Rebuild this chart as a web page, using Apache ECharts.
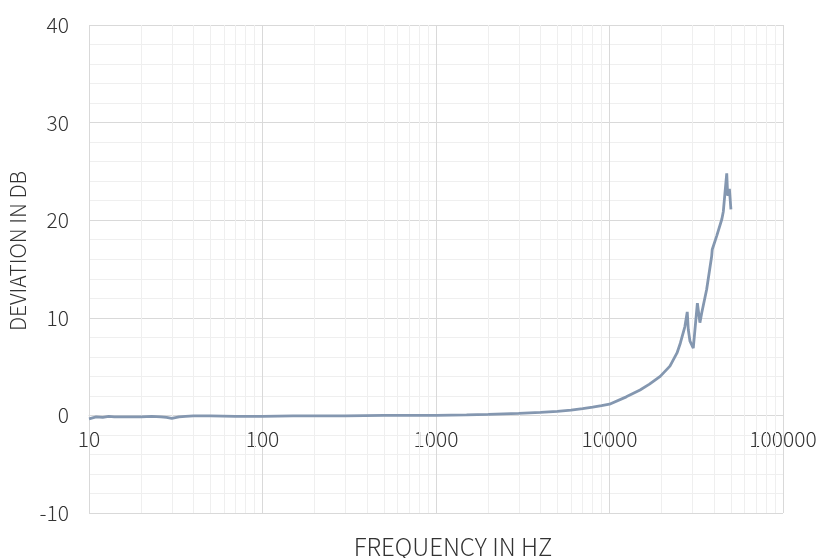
<!DOCTYPE html>
<html>
<head>
<meta charset="utf-8">
<script src="https://cdn.jsdelivr.net/npm/echarts@6/dist/echarts.min.js"></script>
<style>html,body{margin:0;padding:0;background:#fff}#c{width:822px;height:558px}</style>
</head>
<body>
<div id="c"></div>
<script>
const freq = [10, 11, 12, 13, 14, 15, 17, 20, 23, 26, 28, 30, 33, 36, 40, 50, 70, 100, 150, 200, 300, 500, 700, 1000, 1500, 2000, 3000, 4000, 5000, 6000, 7000, 8000, 9000, 10000, 12500, 15000, 17000, 19600, 22300, 24500, 25600, 26100, 27200, 28060, 28450, 29100, 30400, 32100, 33200, 34000, 36300, 38800, 39100, 41500, 44400, 45300, 46300, 47400, 48000, 49100, 50100];
const deviation = [-0.35, -0.15, -0.2, -0.1, -0.15, -0.15, -0.15, -0.15, -0.1, -0.15, -0.2, -0.3, -0.15, -0.1, -0.05, -0.05, -0.1, -0.1, -0.05, -0.05, -0.05, 0, 0, 0, 0.05, 0.1, 0.2, 0.3, 0.42, 0.55, 0.7, 0.85, 1.0, 1.15, 1.9, 2.6, 3.2, 4.0, 5.05, 6.4, 7.4, 7.6, 9.1, 10.6, 8.8, 7.6, 6.9, 11.5, 9.5, 10.5, 12.9, 16.3, 17.0, 18.4, 20.1, 20.9, 22.8, 24.8, 22.5, 23.2, 21.1];
const minorFreqs = [20,30,40,50,60,70,80,90,200,300,400,500,600,700,800,900,2000,3000,4000,5000,6000,7000,8000,9000,20000,30000,40000,50000,60000,70000,80000,90000];
const xTitle = 'FREQUENCY IN HZ';
const yTitle = 'DEVIATION IN DB';

const FONT = '"Noto Sans CJK SC", "Noto Sans", sans-serif';
const GRID_TOP = 25, GRID_BOTTOM = 45, H = 558;
const plotH = H - GRID_TOP - GRID_BOTTOM;
const yMin = -10, yMax = 40;
const zeroOffset = -plotH * (0 - yMin) / (yMax - yMin);

const chart = echarts.init(document.getElementById('c'));
chart.setOption({
  animation: false,
  textStyle: { fontFamily: FONT },
  grid: { left: 89, right: 39, top: GRID_TOP, bottom: GRID_BOTTOM, containLabel: false, outerBoundsMode: 'none' },
  xAxis: {
    type: 'log', logBase: 10, min: 10, max: 100000,
    offset: zeroOffset,
    axisLine: { show: true, onZero: false, lineStyle: { color: '#d9d9d9', width: 1 } },
    axisTick: { show: false },
    axisLabel: { fontSize: 21, fontWeight: 300, color: '#333', margin: 13, fontFamily: FONT, formatter: v => String(Math.round(v)) },
    splitLine: { show: true, lineStyle: { color: '#d9d9d9', width: 1 } },
    name: xTitle, nameLocation: 'middle', nameGap: 119,
    nameTextStyle: { fontSize: 24, fontWeight: 300, color: '#333', fontFamily: FONT, padding: [0, 0, 0, 34] }
  },
  yAxis: {
    type: 'value', min: yMin, max: yMax, interval: 10,
    axisLine: { show: false }, axisTick: { show: false },
    axisLabel: { fontSize: 21, fontWeight: 300, color: '#333', margin: 20, fontFamily: FONT },
    splitLine: { show: true, lineStyle: { color: '#d9d9d9', width: 1 } },
    minorTick: { show: false, splitNumber: 5 },
    minorSplitLine: { show: true, lineStyle: { color: '#efefef', width: 1 } },
    name: yTitle, nameLocation: 'middle', nameGap: 59, nameRotate: 90,
    nameTextStyle: { fontSize: 21, fontWeight: 300, color: '#333', fontFamily: FONT, padding: [0, 0, 0, 36] }
  },
  series: [
    {
      type: 'line', data: [], z: 1, silent: true,
      markLine: {
        silent: true, symbol: ['none', 'none'], label: { show: false },
        lineStyle: { color: '#efefef', width: 1, type: 'solid' },
        data: minorFreqs.map(f => ({ xAxis: f }))
      }
    },
    {
      type: 'line', z: 5, showSymbol: false, symbol: 'none', smooth: false,
      lineStyle: { color: '#8497b0', width: 2.8 },
      data: freq.map((f, i) => [f, deviation[i]])
    }
  ]
});
</script>
</body>
</html>
